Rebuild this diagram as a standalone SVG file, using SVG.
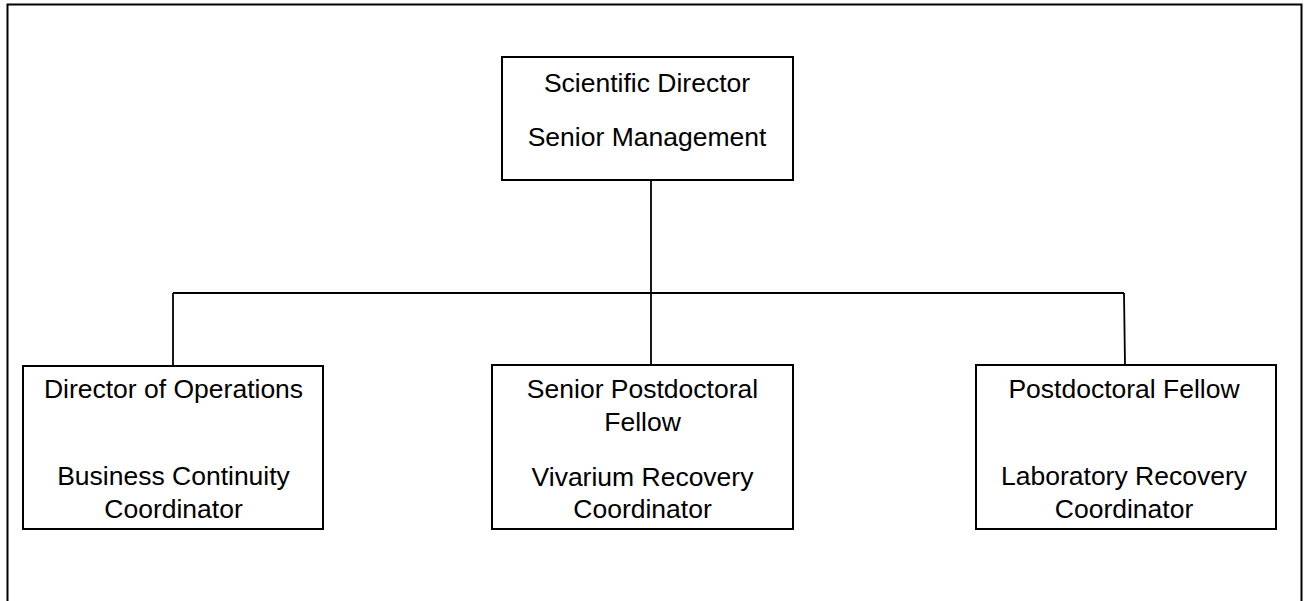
<svg xmlns="http://www.w3.org/2000/svg" width="1304" height="601" viewBox="0 0 1304 601">
<style>
.box{fill:#fff;stroke:#000;stroke-width:2}
.ln{fill:none;stroke:#000;stroke-width:1.8}
.t{font-family:"Liberation Sans",Arial,sans-serif;font-size:26.5px;fill:#000;text-anchor:middle}
</style>
<rect x="0" y="0" width="1304" height="601" fill="#fff"/>
<rect x="7.5" y="4.5" width="1294" height="620" fill="none" stroke="#000" stroke-width="2"/>
<g id="connectors">
<line class="ln" x1="651" y1="180" x2="651" y2="365"/>
<line class="ln" x1="173" y1="293" x2="1124" y2="293"/>
<line class="ln" x1="173" y1="293" x2="173" y2="366"/>
<line class="ln" x1="1124" y1="293" x2="1125" y2="365"/>
</g>
<g id="scientific-director">
<rect class="box" x="502" y="57" width="291" height="123"/>
<text class="t" x="647" y="91.7">Scientific Director</text>
<text class="t" x="647" y="146">Senior Management</text>
</g>
<g id="director-operations">
<rect class="box" x="23" y="366" width="300" height="163"/>
<text class="t" x="173.5" y="398.3">Director of Operations</text>
<text class="t" x="173.5" y="485">Business Continuity</text>
<text class="t" x="173.5" y="518">Coordinator</text>
</g>
<g id="senior-postdoc">
<rect class="box" x="492" y="365" width="301" height="164"/>
<text class="t" x="642.5" y="398.3">Senior Postdoctoral</text>
<text class="t" x="642.5" y="431">Fellow</text>
<text class="t" x="642.5" y="486">Vivarium Recovery</text>
<text class="t" x="642.5" y="518.3">Coordinator</text>
</g>
<g id="postdoc">
<rect class="box" x="976" y="365" width="300" height="164"/>
<text class="t" x="1124" y="398.3">Postdoctoral Fellow</text>
<text class="t" x="1124" y="485">Laboratory Recovery</text>
<text class="t" x="1124" y="517.5">Coordinator</text>
</g>
</svg>
